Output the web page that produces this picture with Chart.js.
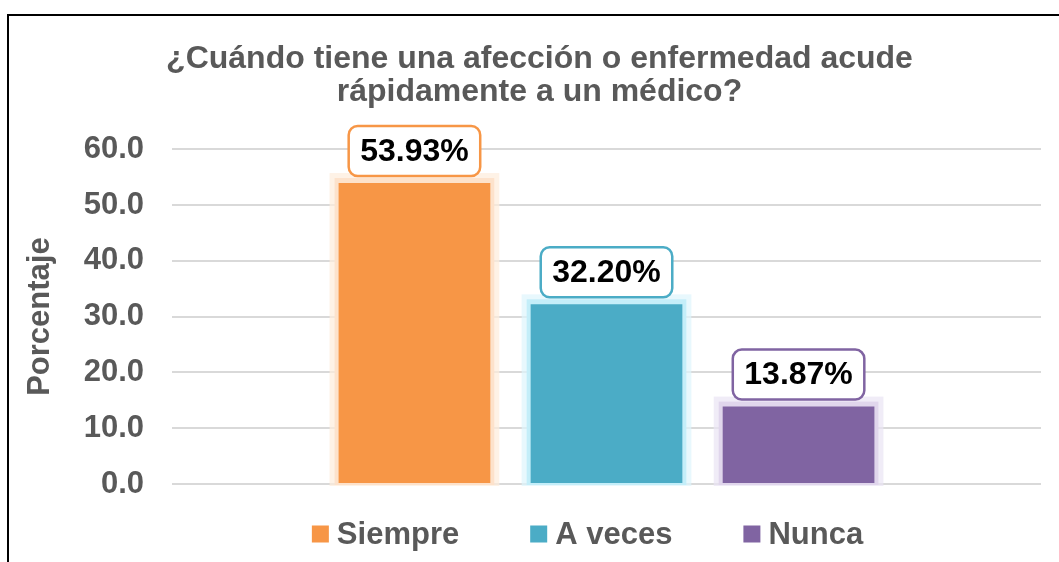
<!DOCTYPE html>
<html>
<head>
<meta charset="utf-8">
<script src="https://cdn.jsdelivr.net/npm/chart.js@4.4.1/dist/chart.umd.min.js"></script>
<style>
  body { margin: 0; background: #fff; overflow: hidden; }
  #wrap { position: relative; width: 1059px; height: 562px; }
  #frame { position: absolute; left: 7px; top: 14px; width: 1200px; height: 700px; border-left: 2px solid #000; border-top: 2px solid #000; }
  canvas { position: absolute; left: 0; top: 0; }
</style>
</head>
<body>
<div id="wrap">
  <div id="frame"></div>
  <canvas id="chart" width="1059" height="562"></canvas>
</div>
<script>
const categories = ["Siempre", "A veces", "Nunca"]
const values = [53.93, 32.2, 13.87]
const colors = ["#F79646", "#4BACC6", "#8064A2"]
const glowOuter = ["rgba(253, 236, 220, 0.7)", "rgba(222, 245, 252, 0.7)", "rgba(234, 228, 244, 0.7)"]
const glowInner = ["#FDE2CB", "#C4EEF9", "#E0D6EC"]
const yTicks = [0, 10, 20, 30, 40, 50, 60]

const FONT = "Arial, 'Liberation Sans', sans-serif"
const GREY = "#595959"

// soft glow behind each bar
const glowPlugin = {
  id: "barGlow",
  beforeDatasetDraw(chart, args) {
    const ctx = chart.ctx
    ctx.save()
    chart.getDatasetMeta(args.index).data.forEach((bar) => {
      const { x, y, base, width } = bar.getProps(["x", "y", "base", "width"], true)
      ctx.fillStyle = glowOuter[args.index]
      ctx.fillRect(x - width / 2 - 9, y - 10, width + 18, base - y + 13)
      ctx.fillStyle = glowInner[args.index]
      ctx.fillRect(x - width / 2 - 4, y - 5, width + 8, base - y + 7)
    })
    ctx.restore()
  },
}

// boxed value labels above the bars
const valueLabelPlugin = {
  id: "valueLabels",
  afterDatasetsDraw(chart) {
    const ctx = chart.ctx
    ctx.save()
    ctx.font = `bold 32px ${FONT}`
    ctx.textAlign = "center"
    ctx.textBaseline = "middle"
    chart.data.datasets.forEach((ds, i) => {
      const bar = chart.getDatasetMeta(i).data[0]
      const text = ds.data[0].toFixed(2) + "%"
      const w = ctx.measureText(text).width + 23
      const h = 50
      const x = bar.x - w / 2
      const y = bar.y - 7 - h
      ctx.beginPath()
      ctx.roundRect(x, y, w, h, 9)
      ctx.fillStyle = "#fff"
      ctx.fill()
      ctx.lineWidth = 2.5
      ctx.strokeStyle = colors[i]
      ctx.stroke()
      ctx.fillStyle = "#000"
      ctx.fillText(text, bar.x, y + h / 2 + 1)
    })
    ctx.restore()
  },
}

// legend drawn under the plot, spaced like the original
const legendPlugin = {
  id: "bottomLegend",
  afterDraw(chart) {
    const ctx = chart.ctx
    const area = chart.chartArea
    const box = 17
    const gap = 8
    const spacing = 71
    ctx.save()
    ctx.font = `bold 31px ${FONT}`
    ctx.textBaseline = "middle"
    ctx.textAlign = "left"
    const items = chart.data.datasets.map((ds) => ({
      text: ds.label,
      color: ds.backgroundColor,
      w: box + gap + ctx.measureText(ds.label).width,
    }))
    const total = items.reduce((s, it) => s + it.w, 0) + spacing * (items.length - 1)
    let x = (area.left + area.right) / 2 - 19 - total / 2
    const cy = area.bottom + 50
    items.forEach((it) => {
      ctx.fillStyle = it.color
      ctx.fillRect(x, cy - box / 2, box, box)
      ctx.fillStyle = GREY
      ctx.fillText(it.text, x + box + gap, cy + 1)
      x += it.w + spacing
    })
    ctx.restore()
  },
}

// title sits a little right of the canvas centre in the original
const titleShiftPlugin = {
  id: "titleShift",
  afterLayout(chart) {
    chart.titleBlock.left += 12
    chart.titleBlock.right += 12
  },
}

new Chart(document.getElementById("chart"), {
  type: "bar",
  data: {
    labels: [""],
    datasets: categories.map((name, i) => ({
      label: name,
      data: [values[i]],
      backgroundColor: colors[i],
      borderWidth: 0,
    })),
  },
  options: {
    responsive: false,
    animation: false,
    devicePixelRatio: 1,
    categoryPercentage: 0.663,
    barPercentage: 0.79,
    layout: { padding: { left: 14, right: 18, top: 0, bottom: 78 } },
    plugins: {
      title: {
        display: true,
        text: ["¿Cuándo tiene una afección o enfermedad acude", "rápidamente a un médico?"],
        color: GREY,
        font: { family: FONT, size: 32, weight: "bold", lineHeight: 1.05 },
        padding: { top: 42, bottom: 40 },
      },
      legend: { display: false },
      tooltip: { enabled: false },
    },
    scales: {
      x: {
        display: false,
        grid: { display: false },
      },
      y: {
        min: 0,
        max: 60,
        afterBuildTicks: (scale) => {
          scale.ticks = yTicks.map((v) => ({ value: v }))
        },
        afterFit: (scale) => {
          scale.width = 158
        },
        ticks: {
          color: GREY,
          font: { family: FONT, size: 31, weight: "bold" },
          padding: 28,
          callback: (v) => Number(v).toFixed(1),
        },
        grid: { color: "#d9d9d9", lineWidth: 2, drawTicks: false },
        border: { display: false },
        title: {
          display: true,
          text: "Porcentaje",
          color: GREY,
          font: { family: FONT, size: 31, weight: "bold" },
          padding: { top: 8, bottom: 24 },
        },
      },
    },
  },
  plugins: [glowPlugin, valueLabelPlugin, legendPlugin, titleShiftPlugin],
})
</script>
</body>
</html>
